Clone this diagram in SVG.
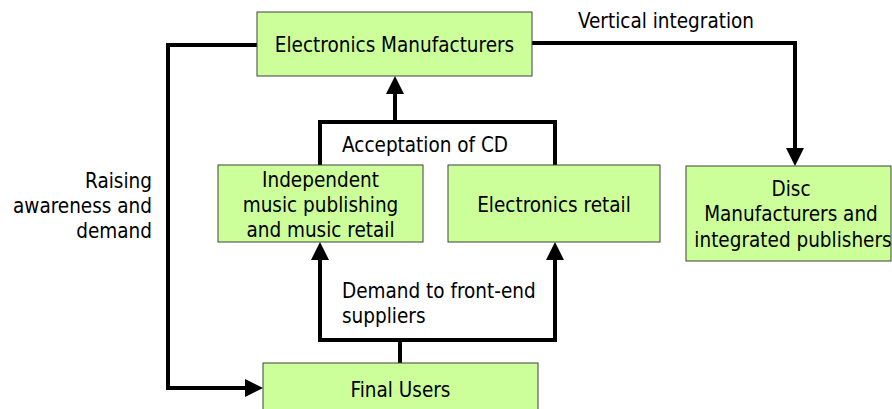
<svg xmlns="http://www.w3.org/2000/svg" width="892" height="409" viewBox="0 0 892 409">
  <style>
    .box { fill: #ccff99; stroke: #404040; stroke-width: 1; }
    .lbl { font-family: "DejaVu Sans Condensed", "DejaVu Sans", sans-serif; font-size: 20.5px; fill: #000; }
    .mid { text-anchor: middle; }
    .end { text-anchor: end; }
    .wire { fill: none; stroke: #000; stroke-width: 4; stroke-linejoin: miter; }
  </style>
  <defs>
    <marker id="head" viewBox="0 0 18 18" markerUnits="userSpaceOnUse" markerWidth="18" markerHeight="18" refX="10" refY="9" orient="auto">
      <path d="M0,0 L18,9 L0,18 z" fill="#000"/>
    </marker>
  </defs>
  <rect width="892" height="409" fill="#fff"/>

  <!-- connectors -->
  <g id="connectors">
    <!-- Electronics Manufacturers -> Final Users (raising awareness) -->
    <path class="wire" d="M257,45 H168 V388 H255" marker-end="url(#head)"/>
    <!-- Electronics Manufacturers -> Disc Manufacturers (vertical integration) -->
    <path class="wire" d="M532,43 H795 V158" marker-end="url(#head)"/>
    <!-- retail boxes -> Electronics Manufacturers (acceptation of CD) -->
    <path class="wire" d="M320,165 V122 H555 V165"/>
    <path class="wire" d="M395,122 V84" marker-end="url(#head)"/>
    <!-- Final Users -> retail boxes (demand) -->
    <path class="wire" d="M400,363 V340"/>
    <path class="wire" d="M320,250 V340 H555 V250"/>
    <path class="wire" d="M320,260 V250" marker-end="url(#head)"/>
    <path class="wire" d="M555,260 V250" marker-end="url(#head)"/>
  </g>

  <!-- connector labels -->
  <text class="lbl" x="578" y="28">Vertical integration</text>
  <text class="lbl" x="342" y="152">Acceptation of CD</text>
  <text class="lbl" x="342" y="298">Demand to front-end</text>
  <text class="lbl" x="342" y="323">suppliers</text>
  <text class="lbl end" x="152" y="188">Raising</text>
  <text class="lbl end" x="152" y="213">awareness and</text>
  <text class="lbl end" x="152" y="238">demand</text>

  <g id="electronics-manufacturers">
    <rect class="box" x="257" y="12" width="275" height="64"/>
    <text class="lbl mid" x="394.5" y="52">Electronics Manufacturers</text>
  </g>

  <g id="independent-music">
    <rect class="box" x="218" y="165" width="205" height="77"/>
    <text class="lbl mid" x="320.5" y="187">Independent</text>
    <text class="lbl mid" x="320.5" y="212">music publishing</text>
    <text class="lbl mid" x="320.5" y="237">and music retail</text>
  </g>

  <g id="electronics-retail">
    <rect class="box" x="448" y="165" width="212" height="77"/>
    <text class="lbl mid" x="554" y="212">Electronics retail</text>
  </g>

  <g id="disc-manufacturers">
    <rect class="box" x="686" y="166" width="205" height="95"/>
    <text class="lbl mid" x="791" y="196">Disc</text>
    <text class="lbl mid" x="791" y="221">Manufacturers and</text>
    <text class="lbl mid" x="793" y="247">integrated publishers</text>
  </g>

  <g id="final-users">
    <rect class="box" x="263" y="363" width="275" height="50"/>
    <text class="lbl mid" x="400.5" y="397">Final Users</text>
  </g>
</svg>
